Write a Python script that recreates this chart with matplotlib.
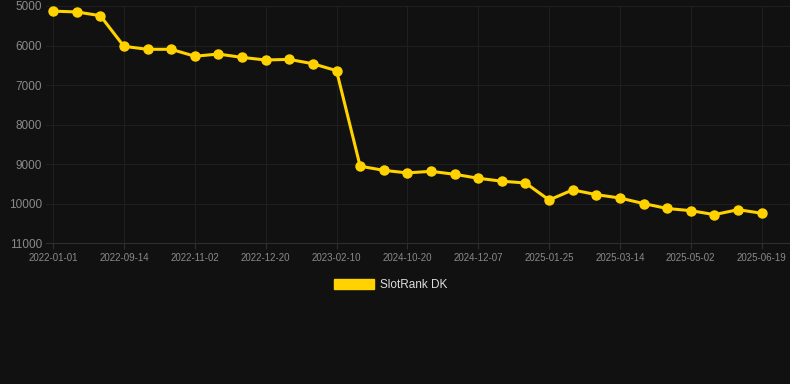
import matplotlib
matplotlib.use('Agg')
import matplotlib.pyplot as plt
from matplotlib.patches import Patch

# valores (rango, eje invertido)
ranks = [5130, 5150, 5245, 6020, 6095, 6095, 6270, 6215, 6300, 6365, 6350,
         6460, 6635, 9050, 9155, 9220, 9180, 9255, 9355, 9430, 9475,
         9905, 9650, 9770, 9855, 9995, 10120, 10175, 10275, 10150, 10240]
tick_labels = ['2022-01-01', '2022-09-14', '2022-11-02', '2022-12-20', '2023-02-10',
               '2024-10-20', '2024-12-07', '2025-01-25', '2025-03-14', '2025-05-02',
               '2025-06-19']
tick_step = 3
y_ticks = [5000, 6000, 7000, 8000, 9000, 10000, 11000]

BG = '#111111'
GOLD = '#FFD200'

plt.rcParams['font.family'] = ['Liberation Sans', 'DejaVu Sans']

fig = plt.figure(figsize=(7.9, 3.84), dpi=100, facecolor=BG)
ax = fig.add_axes([46 / 790, (384 - 243.3) / 384, (790 - 46) / 790, (243.3 - 6) / 384])
ax.set_facecolor(BG)

xs = list(range(len(ranks)))
ax.plot(xs, ranks, color=GOLD, linewidth=2.2, marker='o', markersize=6.5,
        markerfacecolor=GOLD, markeredgecolor=GOLD, clip_on=False, zorder=3)

ax.set_xlim(-0.3, 31.2)
ax.set_ylim(11000, 5000)
ax.set_yticks(y_ticks)
ax.set_yticklabels([str(v) for v in y_ticks])
ax.set_xticks(xs[::tick_step])
ax.set_xticklabels(tick_labels)

ax.grid(True, color='#1f1f1f', linewidth=0.8)
for s in ['top', 'right', 'left']:
    ax.spines[s].set_visible(False)
ax.spines['bottom'].set_color('#2e2e2e')
ax.tick_params(axis='y', length=0, colors='#8a8a8a', labelsize=8.5, pad=3)
ax.tick_params(axis='x', length=4, color='#2e2e2e', colors='#8a8a8a', labelsize=7, pad=3)

handle = Patch(facecolor=GOLD, edgecolor=GOLD)
leg = fig.legend([handle], ['SlotRank DK'], loc='center', bbox_to_anchor=(0.495, 1 - 285 / 384),
                 frameon=False, fontsize=8.5, handlelength=3.4, handleheight=0.9,
                 handletextpad=0.5, labelcolor='#dddddd')

fig.savefig('out.png', dpi=100, facecolor=BG)
